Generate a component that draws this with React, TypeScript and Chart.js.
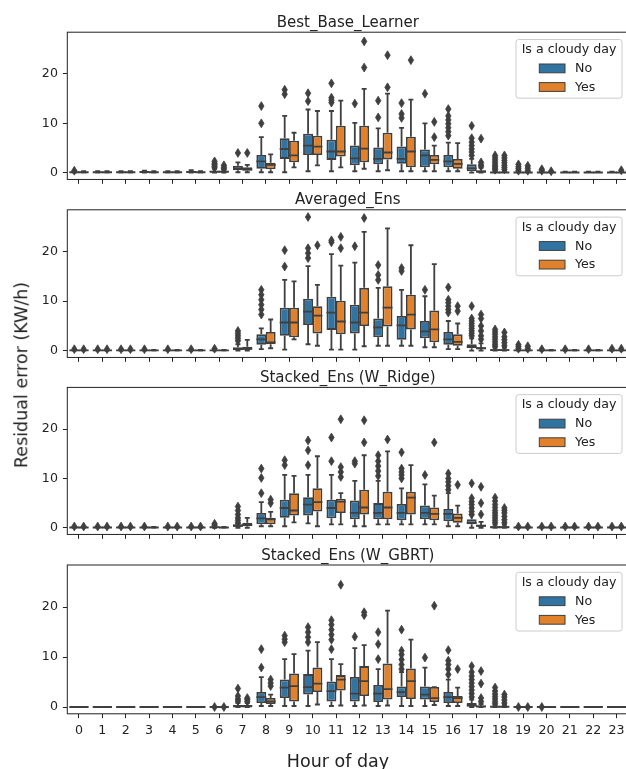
import React, { useEffect, useRef } from 'react';
import { Chart, registerables } from 'chart.js';

Chart.register(...registerables);

// ---------- categories / labels ----------
const HOURS = ['0', '1', '2', '3', '4', '5', '6', '7', '8', '9', '10', '11', '12', '13', '14', '15', '16', '17', '18', '19', '20', '21', '22', '23'];
const HUES = ['No', 'Yes'];
const PANEL_TITLES = ['Best_Base_Learner', 'Averaged_Ens', 'Stacked_Ens (W_Ridge)', 'Stacked_Ens (W_GBRT)'];
const Y_TICKS = [0, 10, 20];
const LEGEND_TITLE = 'Is a cloudy day';
const X_LABEL = 'Hour of day';
const Y_LABEL = 'Residual error (KW/h)';

// ---------- box stats: [whiskerLow, q1, median, q3, whiskerHigh] per hour ----------
const BEST_NO = [
  [0, 0.05, 0.1, 0.2, 0.3], [0, 0.05, 0.1, 0.2, 0.3], [0, 0.05, 0.1, 0.2, 0.3], [0, 0.05, 0.15, 0.25, 0.4],
  [0, 0.05, 0.1, 0.2, 0.3], [0, 0.05, 0.15, 0.3, 0.5], [0, 0.1, 0.2, 0.4, 0.8], [0.1, 0.5, 0.9, 1.4, 2.1],
  [0.1, 0.8, 2.3, 3.6, 7.2], [0.1, 2.8, 4.8, 7.0, 11.5], [0.3, 3.6, 5.5, 7.9, 12.8], [0.3, 2.6, 4.3, 6.7, 12.5],
  [0.3, 1.5, 2.9, 5.5, 10.1], [0.3, 1.7, 2.8, 5.1, 9.0], [0.3, 1.8, 2.8, 5.3, 9.1], [0.3, 1.1, 3.5, 4.7, 10.0],
  [0.3, 1.1, 2.3, 3.6, 6.1], [0, 0.3, 0.9, 1.7, 2.8], [0, 0, 0.05, 0.2, 0.4], [0, 0, 0.05, 0.1, 0.2],
  [0, 0, 0.05, 0.1, 0.2], [0, 0, 0.05, 0.1, 0.2], [0, 0, 0.05, 0.1, 0.2], [0, 0, 0.05, 0.1, 0.2],
];
const BEST_NO_OUT = [
  [0.4], [], [], [], [], [], [1.0, 1.3, 1.6, 1.9, 2.3], [4.0],
  [10.0, 13.5], [15.9, 16.8], [14.5, 16.1], [14.2, 14.7, 15.2, 18.1],
  [14.0], [11.2, 14.6], [11.1, 11.9, 14.1], [16.0],
  [7.5, 8.3, 9.1, 9.9, 10.7, 11.5, 12.9], [3.5, 4.2, 4.8, 5.5, 6.2, 7.0, 9.5], [0.6, 0.9, 1.2, 1.5, 1.9, 2.3, 2.7, 3.1, 3.5], [0.4, 0.8, 1.2, 1.7],
  [0.4, 0.7], [], [], [],
];
const BEST_YES = [
  [0, 0.05, 0.1, 0.2, 0.3], [0, 0.05, 0.1, 0.2, 0.3], [0, 0.05, 0.1, 0.2, 0.3], [0, 0.05, 0.1, 0.2, 0.3],
  [0, 0.05, 0.1, 0.2, 0.3], [0, 0.05, 0.1, 0.2, 0.3], [0, 0.1, 0.2, 0.3, 0.6], [0.1, 0.4, 0.7, 1.1, 1.6],
  [0.1, 0.7, 1.6, 2.0, 3.7], [1.1, 2.1, 3.5, 6.5, 8.1], [1.5, 3.6, 5.3, 7.5, 12.5], [1.1, 3.3, 4.3, 9.5, 14.6],
  [0.8, 2.1, 4.9, 9.5, 17.0], [0.5, 2.7, 4.1, 8.1, 16.0], [0.3, 1.1, 4.3, 7.3, 14.8], [0.3, 1.7, 2.6, 3.6, 5.5],
  [0.3, 0.8, 1.8, 2.8, 6.0], [0, 0.1, 0.2, 0.5, 1.0], [0, 0, 0.05, 0.2, 0.4], [0, 0, 0.05, 0.1, 0.2],
  [0, 0, 0.05, 0.1, 0.2], [0, 0, 0.05, 0.1, 0.2], [0, 0, 0.05, 0.1, 0.2], [0, 0, 0.05, 0.1, 0.2],
];
const BEST_YES_OUT = [
  [], [], [], [], [], [], [0.8, 1.1, 1.5], [4.0],
  [], [], [], [],
  [21.3, 26.6], [17.3, 23.8], [22.8], [7.2, 10.3],
  [], [1.3, 1.6, 2.1, 6.9], [0.7, 1.1, 1.5, 2.0, 2.5, 3.0, 3.5], [0.4, 0.9, 1.4],
  [0.3], [], [], [0.5],
];

const AVG_NO = [
  [0, 0.02, 0.05, 0.1, 0.15], [0, 0.02, 0.05, 0.1, 0.15], [0, 0.02, 0.05, 0.1, 0.15], [0, 0.02, 0.05, 0.1, 0.15],
  [0, 0.02, 0.05, 0.1, 0.15], [0, 0.02, 0.05, 0.1, 0.15], [0, 0.02, 0.05, 0.15, 0.25], [0, 0.1, 0.3, 0.7, 1.3],
  [0.3, 1.2, 2.3, 3.3, 4.5], [0.2, 3.0, 5.7, 8.7, 14.3], [1.3, 5.2, 7.9, 10.5, 17.1], [0.2, 4.2, 7.7, 10.9, 19.5],
  [0.2, 3.5, 5.7, 9.3, 17.8], [1.0, 2.7, 4.7, 6.5, 12.7], [1.0, 2.2, 5.1, 7.0, 12.3], [0.7, 2.5, 3.9, 6.0, 11.0],
  [0.3, 1.2, 2.3, 3.8, 6.0], [0, 0.5, 0.8, 1.3, 2.5], [0, 0, 0.1, 0.3, 0.6], [0, 0, 0.05, 0.1, 0.2],
  [0, 0.02, 0.05, 0.1, 0.15], [0, 0.02, 0.05, 0.1, 0.15], [0, 0.02, 0.05, 0.1, 0.15], [0, 0.02, 0.05, 0.1, 0.15],
];
const AVG_NO_OUT = [
  [0.3], [0.3], [0.3], [0.3], [0.3], [0.3], [0.4], [2.0, 2.5, 3.0, 3.5, 4.0],
  [7.3, 8.3, 9.3, 10.3, 11.3, 12.3], [17.0, 20.3], [18.7, 19.7, 20.7, 27.0], [21.9, 22.3],
  [21.1], [14.3, 15.3, 17.3], [16.1, 16.7], [12.3],
  [7.7, 8.3, 9.0, 9.7, 10.3, 12.8], [3.0, 3.5, 4.0, 4.5, 5.0, 5.5, 6.0, 6.5, 9.0], [0.9, 1.3, 1.8, 2.3, 2.8, 3.3, 3.8, 4.3], [0.4, 0.8, 1.2],
  [0.3], [0.3], [0.3], [0.4],
];
const AVG_YES = [
  [0, 0.02, 0.05, 0.1, 0.15], [0, 0.02, 0.05, 0.1, 0.15], [0, 0.02, 0.05, 0.1, 0.15], [0, 0.02, 0.05, 0.1, 0.15],
  [0, 0.02, 0.05, 0.1, 0.15], [0, 0.02, 0.05, 0.1, 0.15], [0, 0.02, 0.05, 0.1, 0.15], [0, 0.2, 0.4, 0.8, 2.2],
  [0.5, 1.3, 1.7, 3.8, 6.3], [2.3, 2.7, 5.7, 8.7, 14.0], [1.0, 3.5, 7.1, 9.0, 13.3], [0.2, 3.3, 5.9, 10.1, 17.2],
  [0.9, 5.0, 7.7, 12.7, 24.0], [1.0, 4.9, 8.7, 13.0, 24.7], [1.0, 4.3, 7.3, 11.3, 21.3], [0.7, 1.7, 4.3, 8.1, 17.5],
  [0.3, 1.0, 1.8, 3.3, 5.5], [0, 0.3, 0.5, 0.7, 1.5], [0, 0, 0.1, 0.3, 0.6], [0, 0, 0.05, 0.1, 0.2],
  [0, 0.02, 0.05, 0.1, 0.15], [0, 0.02, 0.05, 0.1, 0.15], [0, 0.02, 0.05, 0.1, 0.15], [0, 0.02, 0.05, 0.1, 0.15],
];
const AVG_YES_OUT = [
  [0.3], [0.3], [0.3], [], [], [], [], [],
  [], [], [21.3], [20.7, 23.0],
  [26.8], [], [], [],
  [8.0, 9.0], [2.3, 3.0, 4.0, 5.0, 6.5, 7.3], [1.0, 1.6, 2.2, 2.8, 3.7], [0.4, 0.9],
  [], [], [], [0.4],
];

const RIDGE_NO = [
  [0, 0.02, 0.05, 0.1, 0.15], [0, 0.02, 0.05, 0.1, 0.15], [0, 0.02, 0.05, 0.1, 0.15], [0, 0.02, 0.05, 0.1, 0.15],
  [0, 0.02, 0.05, 0.1, 0.15], [0, 0.02, 0.05, 0.1, 0.15], [0, 0.05, 0.1, 0.2, 0.3], [0, 0.2, 0.4, 0.7, 0.9],
  [0.3, 0.7, 1.9, 3.0, 5.2], [0.3, 2.0, 4.0, 5.7, 10.7], [0.9, 2.5, 4.7, 6.2, 10.7], [0.7, 1.9, 4.0, 5.7, 10.7],
  [0.3, 1.7, 3.0, 5.5, 9.5], [0.7, 1.7, 3.0, 5.0, 9.5], [0.7, 1.5, 3.0, 4.8, 8.0], [0.7, 1.7, 3.0, 4.5, 8.8],
  [0.3, 1.3, 2.8, 3.8, 7.0], [0, 0.7, 1.0, 1.7, 2.5], [0, 0, 0.1, 0.3, 0.6], [0, 0.02, 0.05, 0.1, 0.15],
  [0, 0.02, 0.05, 0.1, 0.15], [0, 0.02, 0.05, 0.1, 0.15], [0, 0.02, 0.05, 0.1, 0.15], [0, 0.02, 0.05, 0.1, 0.15],
];
const RIDGE_NO_OUT = [
  [0.25], [0.25], [0.25], [0.25], [0.25], [0.25], [0.5, 0.8], [1.0, 1.5, 2.0, 2.7, 3.5, 4.3],
  [7.0, 10.1, 12.0], [12.7, 13.7], [12.7, 15.7, 17.7], [13.5, 18.3],
  [13.0, 13.5], [10.5, 11.5, 12.5, 13.5, 14.7], [10.0, 10.7, 11.3, 12.0, 15.3], [10.7],
  [7.7, 8.5, 9.3, 10.0, 11.0], [2.7, 3.3, 4.0, 4.7, 5.3, 6.0, 9.0], [1.0, 1.5, 2.0, 2.5, 3.0, 3.5, 4.1, 4.7, 5.4, 6.1], [0.25],
  [0.25], [0.25], [0.25], [0.25],
];
const RIDGE_YES = [
  [0, 0.02, 0.05, 0.1, 0.15], [0, 0.02, 0.05, 0.1, 0.15], [0, 0.02, 0.05, 0.1, 0.15], [0, 0.02, 0.05, 0.1, 0.15],
  [0, 0.02, 0.05, 0.1, 0.15], [0, 0.02, 0.05, 0.1, 0.15], [0, 0.02, 0.05, 0.1, 0.15], [0, 0.3, 0.6, 1.0, 2.0],
  [0.3, 0.7, 1.7, 2.0, 3.2], [1.1, 2.5, 3.5, 7.0, 10.5], [0.3, 3.3, 5.2, 8.0, 14.5], [0.7, 3.0, 5.3, 5.9, 7.0],
  [0.3, 2.7, 4.1, 7.7, 14.7], [0.7, 1.7, 4.1, 7.3, 15.5], [0.7, 2.7, 6.1, 7.3, 12.7], [0.7, 1.5, 2.8, 4.1, 6.5],
  [0.3, 1.0, 2.0, 2.9, 4.5], [0, 0.2, 0.4, 0.6, 1.2], [0, 0, 0.1, 0.3, 0.6], [0, 0.02, 0.05, 0.1, 0.15],
  [0, 0.02, 0.05, 0.1, 0.15], [0, 0.02, 0.05, 0.1, 0.15], [0, 0.02, 0.05, 0.1, 0.15], [0, 0.02, 0.05, 0.1, 0.15],
];
const RIDGE_YES_OUT = [
  [0.25], [0.25], [0.25], [], [0.25], [0.25], [], [],
  [5.0, 5.7], [], [], [10.3, 11.3, 12.3, 22.0],
  [17.3, 21.8], [17.9], [], [17.3],
  [8.7], [2.7, 5.0, 8.3], [1.0, 1.6, 2.3, 3.0, 3.5, 4.0], [0.25],
  [0.25], [0.25], [0.25], [0.25],
];

const GBRT_NO = [
  [0, 0, 0, 0, 0], [0, 0, 0, 0, 0], [0, 0, 0, 0, 0], [0, 0, 0, 0, 0],
  [0, 0, 0, 0, 0], [0, 0, 0, 0, 0], [0, 0, 0, 0, 0], [0, 0.05, 0.15, 0.4, 0.8],
  [0.2, 0.8, 2.0, 3.0, 6.0], [0.2, 1.8, 3.9, 5.5, 9.6], [0.2, 2.5, 4.0, 6.6, 11.3], [0.2, 1.1, 3.2, 5.1, 9.6],
  [0.2, 1.1, 2.7, 6.0, 11.8], [0.2, 1.0, 2.7, 4.4, 7.6], [0.2, 2.0, 3.0, 4.1, 7.0], [0.2, 1.5, 2.5, 4.1, 7.9],
  [0.2, 0.8, 2.0, 3.0, 5.5], [0, 0, 0.3, 0.8, 1.5], [0, 0, 0.05, 0.2, 0.4], [0, 0, 0, 0, 0],
  [0, 0, 0, 0, 0], [0, 0, 0, 0, 0], [0, 0, 0, 0, 0], [0, 0, 0, 0, 0],
];
const GBRT_NO_OUT = [
  [], [], [], [], [], [], [0.0], [1.2, 1.6, 2.2, 3.7],
  [7.9, 11.6], [13.0, 13.6, 14.3], [13.0, 14.0, 15.0, 16.0], [11.6, 13.5, 14.5, 15.5, 16.5, 17.4],
  [14.1], [9.6, 12.6, 15.0], [7.6, 8.5, 9.5, 10.5, 11.3, 15.5], [9.9],
  [6.5, 7.6, 8.5, 9.3, 11.4], [2.0, 2.7, 3.4, 4.1, 4.8, 5.5, 6.2, 7.0, 8.2], [0.7, 1.1, 1.6, 2.1, 2.6, 3.2, 3.9], [0.0],
  [0.0], [], [], [],
];
const GBRT_YES = [
  [0, 0, 0, 0, 0], [0, 0, 0, 0, 0], [0, 0, 0, 0, 0], [0, 0, 0, 0, 0],
  [0, 0, 0, 0, 0], [0, 0, 0, 0, 0], [0, 0, 0, 0, 0], [0, 0.05, 0.15, 0.4, 0.8],
  [0.2, 0.6, 1.1, 1.8, 2.5], [0.2, 1.1, 4.2, 6.7, 10.6], [0.5, 3.0, 4.7, 7.9, 13.0], [0.3, 3.3, 5.5, 6.4, 8.6],
  [0.3, 2.2, 5.2, 8.2, 12.4], [0.3, 1.5, 3.6, 8.7, 19.3], [0.2, 1.6, 5.2, 7.7, 13.5], [0.4, 1.0, 1.8, 4.0, 4.0],
  [0.2, 0.8, 1.8, 2.2, 3.9], [0, 0, 0.1, 0.3, 0.6], [0, 0, 0.05, 0.2, 0.4], [0, 0, 0, 0, 0],
  [0, 0, 0, 0, 0], [0, 0, 0, 0, 0], [0, 0, 0, 0, 0], [0, 0, 0, 0, 0],
];
const GBRT_YES_OUT = [
  [], [], [], [], [], [], [0.0], [1.1, 1.5, 1.8],
  [4.2, 4.8, 5.5], [], [], [24.5],
  [18.4, 19.0], [], [], [20.3],
  [7.6], [1.1, 1.8, 4.7, 7.2], [0.8, 1.4, 2.0, 2.5], [0.0],
  [], [], [], [],
];

const PANEL_STATS = [
  [BEST_NO, BEST_YES], [AVG_NO, AVG_YES], [RIDGE_NO, RIDGE_YES], [GBRT_NO, GBRT_YES],
];
const PANEL_OUTLIERS = [
  [BEST_NO_OUT, BEST_YES_OUT], [AVG_NO_OUT, AVG_YES_OUT], [RIDGE_NO_OUT, RIDGE_YES_OUT], [GBRT_NO_OUT, GBRT_YES_OUT],
];

// ---------- styling / geometry ----------
const HUE_COLORS = ['#3274a1', '#e1812c'];
const GRAY = '#3f3f3f';
const INK = '#222222';
const FONT = '"DejaVu Sans", sans-serif';
const LW = 1.8;
const CANVAS_W = 640;
const AXIS_LEFT = 67.3;
const AXIS_RIGHT = 628.3;
const FRAME_TOPS = [32.2, 209.8, 387.4, 565.0];
const FRAME_H = 148.8;
const CANVAS_TOPS = [0, 178, 355, 533];
const CANVAS_HS = [192, 192, 192, 236];
const Y_MIN = -1.36;
const Y_MAX = 28.46;

function roundRect(ctx: CanvasRenderingContext2D, x: number, y: number, w: number, h: number, r: number) {
  ctx.beginPath();
  ctx.moveTo(x + r, y);
  ctx.lineTo(x + w - r, y);
  ctx.arcTo(x + w, y, x + w, y + r, r);
  ctx.lineTo(x + w, y + h - r);
  ctx.arcTo(x + w, y + h, x + w - r, y + h, r);
  ctx.lineTo(x + r, y + h);
  ctx.arcTo(x, y + h, x, y + h - r, r);
  ctx.lineTo(x, y + r);
  ctx.arcTo(x, y, x + r, y, r);
  ctx.closePath();
}

function makePlugin(k: number) {
  return {
    id: 'boxExtras' + k,
    afterDatasetsDraw(chart: any) {
      const ctx: CanvasRenderingContext2D = chart.ctx;
      const ys = chart.scales.y;
      const py = (v: number) => ys.getPixelForValue(v);
      ctx.save();
      chart.data.datasets.forEach((ds: any, i: number) => {
        const meta = chart.getDatasetMeta(i);
        meta.data.forEach((el: any, j: number) => {
          const s = ds.stats[j];
          const x = el.x;
          const w = el.width;
          ctx.strokeStyle = GRAY;
          ctx.lineWidth = LW;
          ctx.lineCap = 'butt';
          ctx.beginPath();
          ctx.moveTo(x, py(s[3]));
          ctx.lineTo(x, py(s[4]));
          ctx.moveTo(x, py(s[1]));
          ctx.lineTo(x, py(s[0]));
          ctx.moveTo(x - w / 4, py(s[4]));
          ctx.lineTo(x + w / 4, py(s[4]));
          ctx.moveTo(x - w / 4, py(s[0]));
          ctx.lineTo(x + w / 4, py(s[0]));
          ctx.moveTo(x - w / 2, py(s[2]));
          ctx.lineTo(x + w / 2, py(s[2]));
          ctx.stroke();
          ctx.fillStyle = GRAY;
          ctx.lineWidth = 0.8;
          ds.outliers[j].forEach((v: number) => {
            const yy = py(v);
            ctx.beginPath();
            ctx.moveTo(x, yy - 4.4);
            ctx.lineTo(x + 2.7, yy);
            ctx.lineTo(x, yy + 4.4);
            ctx.lineTo(x - 2.7, yy);
            ctx.closePath();
            ctx.fill();
            ctx.stroke();
          });
        });
      });
      ctx.restore();
    },
    afterDraw(chart: any) {
      const ctx: CanvasRenderingContext2D = chart.ctx;
      const a = chart.chartArea;
      ctx.save();
      // frame
      ctx.strokeStyle = INK;
      ctx.lineWidth = 1;
      ctx.strokeRect(a.left, a.top, a.right - a.left, a.bottom - a.top);
      // title
      ctx.fillStyle = INK;
      ctx.font = `15px ${FONT}`;
      ctx.textAlign = 'center';
      ctx.textBaseline = 'alphabetic';
      ctx.fillText(PANEL_TITLES[k], (a.left + a.right) / 2, a.top - 5.5);
      // legend
      const R = a.right;
      const T = a.top;
      roundRect(ctx, R - 112.3, T + 7.3, 106, 58.7, 2.5);
      ctx.fillStyle = 'rgba(255,255,255,0.8)';
      ctx.fill();
      ctx.strokeStyle = '#cccccc';
      ctx.lineWidth = 1;
      ctx.stroke();
      ctx.font = `12.6px ${FONT}`;
      ctx.fillStyle = INK;
      ctx.textAlign = 'center';
      ctx.textBaseline = 'middle';
      ctx.fillText(LEGEND_TITLE, R - 59.3, T + 17.5);
      HUES.forEach((h, i) => {
        const yc = T + 36.2 + i * 18.6;
        ctx.fillStyle = HUE_COLORS[i];
        ctx.fillRect(R - 89, yc - 4.4, 25.7, 8.8);
        ctx.strokeStyle = GRAY;
        ctx.lineWidth = 1;
        ctx.strokeRect(R - 89, yc - 4.4, 25.7, 8.8);
        ctx.fillStyle = INK;
        ctx.textAlign = 'left';
        ctx.fillText(h, R - 53.3, yc + 0.5);
      });
      ctx.restore();
    },
  };
}

function makeConfig(k: number): any {
  const padTop = FRAME_TOPS[k] - CANVAS_TOPS[k];
  const isLast = k === 3;
  const xH = isLast ? CANVAS_HS[k] - padTop - FRAME_H : 10;
  const padBottom = isLast ? 0 : CANVAS_HS[k] - padTop - FRAME_H - xH;
  const datasets = HUES.map((h, i) => ({
    label: h,
    data: PANEL_STATS[k][i].map((s) => [s[1], s[3]]),
    stats: PANEL_STATS[k][i],
    outliers: PANEL_OUTLIERS[k][i],
    backgroundColor: HUE_COLORS[i],
    borderColor: GRAY,
    borderWidth: LW,
    borderSkipped: false,
    barPercentage: 1.06,
    categoryPercentage: 0.8,
  }));
  return {
    type: 'bar',
    data: { labels: HOURS, datasets },
    options: {
      responsive: false,
      animation: false,
      devicePixelRatio: 1,
      events: [],
      layout: { padding: { top: padTop, bottom: padBottom, left: 0, right: CANVAS_W - AXIS_RIGHT } },
      plugins: { legend: { display: false }, title: { display: false }, tooltip: { enabled: false } },
      scales: {
        x: {
          type: 'category',
          offset: true,
          grid: { display: true, drawOnChartArea: false, drawTicks: true, tickLength: 4.4, tickWidth: 1, tickColor: INK, offset: false },
          border: { display: false },
          ticks: { display: isLast, font: { family: FONT, size: 12.6 }, color: INK, padding: 4.5, maxRotation: 0, minRotation: 0, autoSkip: false },
          afterFit: (s: any) => { s.height = xH; },
        },
        y: {
          type: 'linear',
          min: Y_MIN,
          max: Y_MAX,
          afterBuildTicks: (s: any) => { s.ticks = Y_TICKS.map((v) => ({ value: v })); },
          grid: { display: true, drawOnChartArea: false, drawTicks: true, tickLength: 4.4, tickWidth: 1, tickColor: INK },
          border: { display: false },
          ticks: { font: { family: FONT, size: 12.6 }, color: INK, padding: 5 },
          afterFit: (s: any) => { s.width = AXIS_LEFT; },
        },
      },
    },
    plugins: [makePlugin(k)],
  };
}

function Panel({ index }: { index: number }) {
  const ref = useRef<HTMLCanvasElement | null>(null);
  useEffect(() => {
    if (!ref.current) return;
    const chart = new Chart(ref.current, makeConfig(index));
    return () => chart.destroy();
  }, [index]);
  return (
    <canvas
      ref={ref}
      width={CANVAS_W}
      height={CANVAS_HS[index]}
      style={{ position: 'absolute', left: 0, top: CANVAS_TOPS[index], width: CANVAS_W, height: CANVAS_HS[index], display: 'block' }}
    />
  );
}

export default function App() {
  return (
    <div style={{ position: 'fixed', left: 0, top: 0, width: 626, height: 769, overflow: 'hidden', background: '#ffffff' }}>
      {[0, 1, 2, 3].map((k) => (
        <Panel key={k} index={k} />
      ))}
      <div
        style={{
          position: 'absolute', left: 338, top: 761.5, transform: 'translate(-50%, -50%)',
          fontFamily: FONT, fontSize: 17.5, lineHeight: 1, whiteSpace: 'nowrap', color: INK,
        }}
      >
        {X_LABEL}
      </div>
      <div
        style={{
          position: 'absolute', left: 22, top: 375, transform: 'translate(-50%, -50%) rotate(-90deg)',
          fontFamily: FONT, fontSize: 17.5, lineHeight: 1, whiteSpace: 'nowrap', color: INK,
        }}
      >
        {Y_LABEL}
      </div>
    </div>
  );
}
